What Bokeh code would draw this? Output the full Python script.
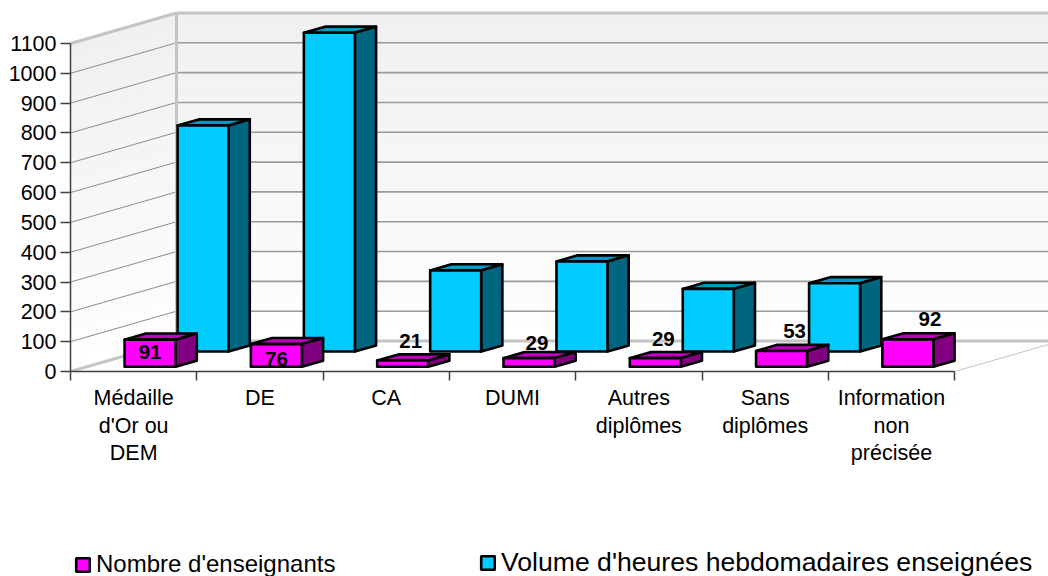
from bokeh.embed import file_html
from bokeh.layouts import column
from bokeh.resources import INLINE
from bokeh.plotting import figure
from bokeh.models import FixedTicker, Legend, LegendItem, Range1d
from bokeh.core.properties import value as fixed

# ---- data ----
categories = ["Médaille\nd'Or ou\nDEM", "DE", "CA", "DUMI", "Autres\ndiplômes",
              "Sans\ndiplômes", "Information\nnon\nprécisée"]
enseignants = [91, 76, 21, 29, 29, 53, 92]
heures = [758, 1069, 272, 302, 210, 229, None]
y_ticks = list(range(0, 1101, 100))
series_names = ["Nombre d'enseignants", "Volume d'heures hebdomadaires enseignées"]

# ---- geometry ----
W, H = 1048, 576
AXIS_X, AXIS_Y = 70, 371       # where the value axis meets the category axis
PX_CAT, PX_VAL = 126.3, 0.2982
DX = 106 / PX_CAT              # depth of the box, in category units
DY = 30.5 / PX_VAL             # depth of the box, in value units
VMAX = 1100
BAR = 51 / PX_CAT
THICK = 0.2
Z_PINK, Z_BLUE = 0.155, 0.655
FONT = "Liberation Sans"
TOP_H = AXIS_Y + 14


def pt(c, v, z=0.0):
    return c + z * DX, v + z * DY


p = figure(width=W, height=TOP_H, output_backend="svg", toolbar_location=None,
           x_range=Range1d(0, (W - AXIS_X) / PX_CAT),
           y_range=Range1d(0, AXIS_Y / PX_VAL),
           min_border_left=AXIS_X, min_border_right=0, min_border_top=0,
           min_border_bottom=14, outline_line_color=None,
           background_fill_color="white", border_fill_color="white")
p.grid.visible = False


def polys(faces, **kw):
    xs, ys = [], []
    for f in faces:
        q_ = [pt(*a) for a in f]
        xs.append([a[0] for a in q_])
        ys.append([a[1] for a in q_])
    return p.patches(xs, ys, **kw)


def seg(a, b, **kw):
    q_ = [pt(*a), pt(*b)]
    return p.line([q_[0][0], q_[1][0]], [q_[0][1], q_[1][1]], **kw)


# ---- walls with the soft vertical gradient ----
n = 24
for k in range(n):
    v0, v1 = VMAX * k / n, VMAX * (k + 1) / n
    g = round(255 - 15 * ((k + 0.5) / n) ** 0.9)
    col = f"#{g:02x}{g:02x}{g:02x}"
    polys([[(0, v0, 0), (0, v1, 0), (0, v1, 1), (0, v0, 1)],
           [(0, v0, 1), (0, v1, 1), (8, v1, 1), (8, v0, 1)]],
          fill_color=col, line_color=col, line_width=0.6)

# gridlines
for t in y_ticks[1:-1]:
    seg((0, t, 0), (0, t, 1), line_color="#8c8c8c", line_width=1)
    seg((0, t, 1), (8, t, 1), line_color="#9a9a9a", line_width=1.6)

# box edges
edge = "#c4c4c4"
seg((0, VMAX, 0), (0, VMAX, 1), line_color=edge, line_width=3)
seg((0, VMAX, 1), (8, VMAX, 1), line_color=edge, line_width=3)
seg((0, 0, 1), (0, VMAX, 1), line_color=edge, line_width=3)
seg((0, 0, 0), (0, 0, 1), line_color=edge, line_width=3)
seg((0, 0, 1), (8, 0, 1), line_color=edge, line_width=3)
seg((7, 0, 0), (7, 0, 1), line_color=edge, line_width=1)


# ---- bars ----
def bar(i, val, z, front, top, side):
    a, b = i + 0.5 - BAR / 2, i + 0.5 + BAR / 2
    z2 = z + THICK
    kw = dict(line_color="black", line_width=2.6, line_join="round")
    polys([[(a, val, z), (b, val, z), (b, val, z2), (a, val, z2)]], fill_color=top, **kw)
    polys([[(b, 0, z), (b, val, z), (b, val, z2), (b, 0, z2)]], fill_color=side, **kw)
    polys([[(a, 0, z), (b, 0, z), (b, val, z), (a, val, z)]], fill_color=front, **kw)


for i, v in enumerate(heures):
    if v is not None:
        bar(i, v, Z_BLUE, "#00ccff", "#0099bf", "#006680")
for i, v in enumerate(enseignants):
    bar(i, v, Z_PINK, "#ff00ff", "#bf00bf", "#800080")

# data labels (free-floating in the original, hence the individual nudges)
nudge_x = [0, 0, 8, 8, 8, 13, 22]
nudge_y = [12, 15, -20, -15, -19, -20, -20]
lab_pts = [pt(i + 0.5, v, Z_PINK) for i, v in enumerate(enseignants)]
p.text([a[0] for a in lab_pts], [a[1] for a in lab_pts], text=[str(v) for v in enseignants],
       x_offset=nudge_x, y_offset=nudge_y, text_align="center", text_baseline="middle",
       text_font=fixed(FONT), text_font_style="bold", text_font_size="20.5px", text_color="black")

# ---- axes ----
ya = p.yaxis[0]
ya.ticker = FixedTicker(ticks=y_ticks)
ya.bounds = (0, VMAX)
ya.axis_line_color = "#404040"
ya.axis_line_width = 1.5
ya.major_tick_line_color = "#404040"
ya.major_tick_line_width = 1.5
ya.major_tick_out = 10
ya.major_tick_in = 0
ya.minor_tick_out = 0
ya.minor_tick_in = 0
ya.major_label_standoff = 4
ya.major_label_text_font = FONT
ya.major_label_text_font_size = "21.5px"
ya.major_label_text_color = "black"

xa = p.xaxis[0]
xa.ticker = FixedTicker(ticks=list(range(len(categories) + 1)))
xa.bounds = (0, len(categories))
xa.axis_line_color = "#404040"
xa.axis_line_width = 1.5
xa.major_tick_line_color = "#404040"
xa.major_tick_line_width = 1.5
xa.major_tick_out = 9
xa.major_tick_in = 0
xa.minor_tick_out = 0
xa.minor_tick_in = 0
xa.major_label_text_font_size = "0px"
xa.major_label_text_color = None

# ---- lower figure: category labels and legend, y in window pixels ----
q = figure(width=W, height=H - TOP_H, output_backend="svg", toolbar_location=None,
           x_range=p.x_range, y_range=Range1d(H, TOP_H),
           min_border_left=AXIS_X, min_border_right=0, min_border_top=0, min_border_bottom=0,
           outline_line_color=None, x_axis_location=None, y_axis_location=None)
q.grid.visible = False

lx, ly, lt = [], [], []
for i, c in enumerate(categories):
    for j, line in enumerate(c.split("\n")):
        lx.append(i + 0.5)
        ly.append(397.5 + j * 27.5)
        lt.append(line)
q.text(lx, ly, text=lt, text_align="center", text_baseline="middle",
       text_font=fixed(FONT), text_font_size="21.5px", text_color="black")

swatches = (("#ff00ff", series_names[0], 4, "24px", -2),
            ("#00ccff", series_names[1], 409, "26.6px", -2))
for colour, name, x0, fs, y0 in swatches:
    r = q.patches(xs=[[]], ys=[[]], fill_color=colour, line_color="black", line_width=2.6)
    lg = Legend(items=[LegendItem(label=name, renderers=[r])], location=(x0, y0),
                background_fill_alpha=0, border_line_color=None,
                glyph_width=17, glyph_height=17, label_text_font=FONT,
                label_text_font_size=fs, label_text_color="black",
                margin=0, padding=0, label_standoff=5)
    q.add_layout(lg, "center")

page = column(p, q, spacing=0)
open("out.html", "w").write(file_html(page, INLINE))
